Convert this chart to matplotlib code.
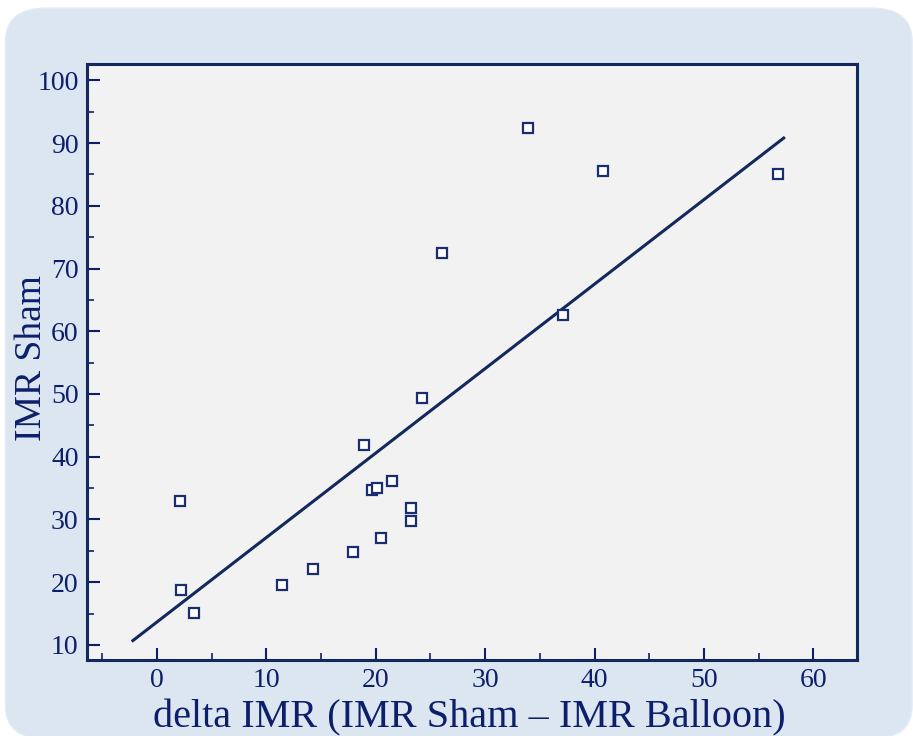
import numpy as np
import matplotlib.pyplot as plt
from matplotlib.patches import FancyBboxPatch

# data
delta_imr = [2.1, 2.2, 3.4, 11.4, 14.3, 17.9, 18.9, 19.7, 20.1, 20.5,
             21.5, 23.2, 23.2, 24.2, 26.1, 33.9, 37.1, 40.8, 56.8]
imr_sham = [33.0, 18.8, 15.1, 19.6, 22.1, 24.8, 41.9, 34.7, 35.0, 27.1,
            36.1, 31.8, 29.8, 49.4, 72.5, 92.4, 62.6, 85.5, 85.0]
fit_x = [-2.2, 57.3]
fit_y = [10.7, 90.8]

x_ticks = [0, 10, 20, 30, 40, 50, 60]
y_ticks = [10, 20, 30, 40, 50, 60, 70, 80, 90, 100]

navy = '#0d1f6b'
line_col = '#13285c'

plt.rcParams['font.family'] = ['Liberation Serif', 'DejaVu Serif']

fig = plt.figure(figsize=(9.13, 7.36), dpi=100)
fig.patch.set_facecolor('white')

# rounded light blue panel behind everything
panel = FancyBboxPatch((0.006, -0.004), 0.993, 0.993,
                       boxstyle='round,pad=0,rounding_size=0.045',
                       transform=fig.transFigure, facecolor='#dce6f1',
                       edgecolor='#e4ebf4', linewidth=1, zorder=-10)
fig.patches.append(panel)

ax = fig.add_axes([87 / 913, 1 - 660 / 736, (857 - 87) / 913, (660 - 64) / 736])
ax.set_facecolor('#f2f2f2')
ax.set_zorder(1)

ax.plot(fit_x, fit_y, color=line_col, lw=2.2, zorder=2)
ax.plot(delta_imr, imr_sham, linestyle='none', marker='s', markersize=7.5,
        markerfacecolor='white', markeredgecolor='#1a2e6e',
        markeredgewidth=1.6, zorder=3)

ax.set_xlim(-6.4, 64)
ax.set_ylim(7.6, 102.6)
ax.set_xticks(x_ticks)
ax.set_yticks(y_ticks)
ax.set_xticks(np.arange(-5, 64, 5), minor=True)
ax.set_yticks(np.arange(15, 101, 10), minor=True)

ax.tick_params(which='both', direction='in', colors=navy, top=False, right=False)
ax.tick_params(which='major', length=9, width=1.5, labelsize=20, pad=6)
ax.tick_params(which='minor', length=5, width=1.2)
for lab in ax.get_xticklabels() + ax.get_yticklabels():
    lab.set_color(navy)

for sp in ax.spines.values():
    sp.set_color(line_col)
    sp.set_linewidth(2.2)

ax.set_xlabel('delta IMR (IMR Sham \u2013 IMR Balloon)', fontsize=29,
              color=navy)
ax.set_ylabel('IMR Sham', fontsize=27, color=navy)
ax.xaxis.set_label_coords(0.497, -0.066)
ax.yaxis.set_label_coords(-38 / 770, (660 - 358) / 596)

fig.savefig('out.png', dpi=100)
